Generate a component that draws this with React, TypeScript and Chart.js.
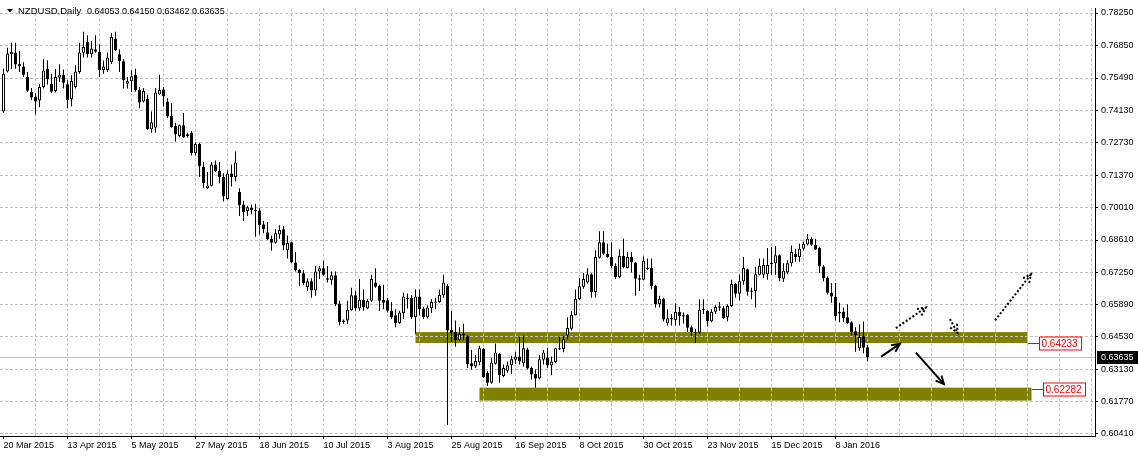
import React, { useEffect, useRef } from 'react';
import { Chart, registerables } from 'chart.js';

Chart.register(...registerables);

// ---- data (NZDUSD daily, bar 0 = 20 Mar 2015) ----
const DATE_LABELS = [
  '20 Mar 2015', '13 Apr 2015', '5 May 2015', '27 May 2015', '18 Jun 2015', '10 Jul 2015', '3 Aug 2015',
  '25 Aug 2015', '16 Sep 2015', '8 Oct 2015', '30 Oct 2015', '23 Nov 2015', '15 Dec 2015', '8 Jan 2016',
];

const OPEN = [
  0.7407, 0.7577, 0.7650, 0.7657, 0.7609, 0.7598, 0.7553, 0.7491, 0.7470, 0.7453,
  0.7511, 0.7588, 0.7525, 0.7494, 0.7550, 0.7563, 0.7523, 0.7459, 0.7511, 0.7574,
  0.7656, 0.7702, 0.7650, 0.7671, 0.7660, 0.7583, 0.7583, 0.7616, 0.7717, 0.7650,
  0.7620, 0.7525, 0.7535, 0.7563, 0.7498, 0.7449, 0.7461, 0.7331, 0.7338, 0.7479,
  0.7500, 0.7449, 0.7389, 0.7345, 0.7303, 0.7348, 0.7310, 0.7317, 0.7229, 0.7269,
  0.7171, 0.7081, 0.7091, 0.7182, 0.7154, 0.7129, 0.7035, 0.7143, 0.7129, 0.7065,
  0.7012, 0.6984, 0.6998, 0.6986, 0.6986, 0.6928, 0.6894, 0.6866, 0.6849, 0.6884,
  0.6907, 0.6817, 0.6852, 0.6766, 0.6734, 0.6720, 0.6661, 0.6686, 0.6647, 0.6727,
  0.6741, 0.6699, 0.6690, 0.6711, 0.6591, 0.6519, 0.6519, 0.6563, 0.6626, 0.6570,
  0.6607, 0.6570, 0.6603, 0.6681, 0.6667, 0.6607, 0.6605, 0.6561, 0.6542, 0.6509,
  0.6551, 0.6609, 0.6616, 0.6533, 0.6621, 0.6570, 0.6533, 0.6571, 0.6595, 0.6598,
  0.6626, 0.6667, 0.6480, 0.6470, 0.6435, 0.6463, 0.6452, 0.6338, 0.6324, 0.6342,
  0.6398, 0.6297, 0.6255, 0.6336, 0.6377, 0.6283, 0.6306, 0.6329, 0.6352, 0.6366,
  0.6338, 0.6396, 0.6317, 0.6292, 0.6273, 0.6352, 0.6362, 0.6328, 0.6342, 0.6396,
  0.6398, 0.6456, 0.6484, 0.6542, 0.6609, 0.6662, 0.6681, 0.6716, 0.6640, 0.6786,
  0.6852, 0.6803, 0.6789, 0.6752, 0.6703, 0.6794, 0.6742, 0.6789, 0.6766, 0.6699,
  0.6692, 0.6742, 0.6742, 0.6667, 0.6588, 0.6612, 0.6508, 0.6530, 0.6521, 0.6556,
  0.6542, 0.6544, 0.6491, 0.6470, 0.6467, 0.6567, 0.6561, 0.6516, 0.6556, 0.6573,
  0.6571, 0.6533, 0.6581, 0.6674, 0.6633, 0.6686, 0.6737, 0.6647, 0.6644, 0.6713,
  0.6713, 0.6716, 0.6765, 0.6762, 0.6796, 0.6697, 0.6723, 0.6762, 0.6803, 0.6789,
  0.6824, 0.6842, 0.6866, 0.6841, 0.6828, 0.6748, 0.6702, 0.6637, 0.6621, 0.6556,
  0.6556, 0.6533, 0.6512, 0.6474, 0.6401, 0.6452, 0.64053,
];

const HIGH = [
  0.7588, 0.7678, 0.7699, 0.7699, 0.7664, 0.7616, 0.7574, 0.7507, 0.7484, 0.7524,
  0.7629, 0.7624, 0.7567, 0.7588, 0.7607, 0.7585, 0.7539, 0.7561, 0.7603, 0.7699,
  0.7745, 0.7731, 0.7706, 0.7731, 0.7692, 0.7623, 0.7657, 0.7740, 0.7745, 0.7671,
  0.7629, 0.7553, 0.7581, 0.7588, 0.7511, 0.7507, 0.7478, 0.7407, 0.7507, 0.7563,
  0.7511, 0.7463, 0.7442, 0.7359, 0.7352, 0.7400, 0.7317, 0.7324, 0.7275, 0.7275,
  0.7192, 0.7150, 0.7192, 0.7199, 0.7192, 0.7145, 0.7157, 0.7182, 0.7237, 0.7081,
  0.7028, 0.7007, 0.7012, 0.7015, 0.6998, 0.6942, 0.6937, 0.6880, 0.6907, 0.6924,
  0.6920, 0.6880, 0.6855, 0.6810, 0.6737, 0.6734, 0.6699, 0.6699, 0.6751, 0.6751,
  0.6773, 0.6751, 0.6727, 0.6727, 0.6603, 0.6523, 0.6603, 0.6658, 0.6644, 0.6695,
  0.6651, 0.6609, 0.6713, 0.6741, 0.6671, 0.6671, 0.6616, 0.6598, 0.6567, 0.6561,
  0.6637, 0.6634, 0.6626, 0.6651, 0.6651, 0.6578, 0.6584, 0.6609, 0.6616, 0.6651,
  0.6713, 0.6674, 0.6561, 0.6519, 0.6491, 0.6505, 0.6456, 0.6394, 0.6373, 0.6412,
  0.6401, 0.6304, 0.6359, 0.6421, 0.6380, 0.6332, 0.6345, 0.6370, 0.6387, 0.6449,
  0.6456, 0.6404, 0.6324, 0.6311, 0.6373, 0.6394, 0.6404, 0.6366, 0.6404, 0.6449,
  0.6456, 0.6533, 0.6561, 0.6651, 0.6699, 0.6720, 0.6741, 0.6720, 0.6817, 0.6898,
  0.6898, 0.6845, 0.6852, 0.6762, 0.6821, 0.6866, 0.6810, 0.6810, 0.6769, 0.6713,
  0.6792, 0.6783, 0.6782, 0.6671, 0.6624, 0.6616, 0.6567, 0.6547, 0.6591, 0.6577,
  0.6553, 0.6547, 0.6498, 0.6484, 0.6609, 0.6609, 0.6563, 0.6567, 0.6584, 0.6598,
  0.6581, 0.6588, 0.6692, 0.6678, 0.6713, 0.6789, 0.6740, 0.6658, 0.6747, 0.6783,
  0.6783, 0.6827, 0.6831, 0.6836, 0.6799, 0.6762, 0.6775, 0.6838, 0.6824, 0.6845,
  0.6855, 0.6887, 0.6873, 0.6866, 0.6832, 0.6755, 0.6706, 0.6678, 0.6678, 0.6595,
  0.6574, 0.6588, 0.6516, 0.6491, 0.6503, 0.6515, 0.64150,
];

const LOW = [
  0.7400, 0.7572, 0.7588, 0.7588, 0.7574, 0.7553, 0.7491, 0.7456, 0.7394, 0.7425,
  0.7504, 0.7520, 0.7484, 0.7487, 0.7532, 0.7504, 0.7421, 0.7428, 0.7504, 0.7567,
  0.7636, 0.7636, 0.7636, 0.7657, 0.7553, 0.7567, 0.7574, 0.7609, 0.7664, 0.7574,
  0.7504, 0.7504, 0.7491, 0.7491, 0.7421, 0.7445, 0.7328, 0.7317, 0.7317, 0.7477,
  0.7428, 0.7379, 0.7338, 0.7279, 0.7296, 0.7294, 0.7296, 0.7220, 0.7220, 0.7129,
  0.7081, 0.7078, 0.7088, 0.7150, 0.7102, 0.7025, 0.7032, 0.7088, 0.7109, 0.6963,
  0.6942, 0.6963, 0.6970, 0.6875, 0.6884, 0.6890, 0.6862, 0.6815, 0.6845, 0.6866,
  0.6817, 0.6783, 0.6762, 0.6727, 0.6665, 0.6671, 0.6644, 0.6616, 0.6624, 0.6695,
  0.6709, 0.6681, 0.6671, 0.6581, 0.6498, 0.6505, 0.6505, 0.6561, 0.6561, 0.6561,
  0.6561, 0.6567, 0.6598, 0.6658, 0.6561, 0.6567, 0.6553, 0.6526, 0.6491, 0.6505,
  0.6526, 0.6570, 0.6526, 0.6463, 0.6542, 0.6526, 0.6528, 0.6551, 0.6567, 0.6595,
  0.6616, 0.6075, 0.6428, 0.6408, 0.6431, 0.6435, 0.6317, 0.6311, 0.6317, 0.6329,
  0.6275, 0.6241, 0.6251, 0.6332, 0.6255, 0.6278, 0.6297, 0.6292, 0.6334, 0.6332,
  0.6324, 0.6311, 0.6269, 0.6234, 0.6269, 0.6332, 0.6317, 0.6287, 0.6338, 0.6394,
  0.6384, 0.6440, 0.6477, 0.6540, 0.6607, 0.6654, 0.6675, 0.6616, 0.6616, 0.6783,
  0.6796, 0.6786, 0.6741, 0.6695, 0.6699, 0.6741, 0.6741, 0.6723, 0.6624, 0.6644,
  0.6690, 0.6734, 0.6651, 0.6574, 0.6574, 0.6515, 0.6498, 0.6498, 0.6498, 0.6498,
  0.6505, 0.6470, 0.6452, 0.6424, 0.6463, 0.6547, 0.6494, 0.6512, 0.6547, 0.6561,
  0.6526, 0.6516, 0.6577, 0.6616, 0.6605, 0.6671, 0.6624, 0.6609, 0.6574, 0.6711,
  0.6699, 0.6692, 0.6713, 0.6713, 0.6686, 0.6683, 0.6716, 0.6748, 0.6769, 0.6769,
  0.6817, 0.6838, 0.6836, 0.6819, 0.6720, 0.6686, 0.6630, 0.6595, 0.6519, 0.6512,
  0.6512, 0.6505, 0.6456, 0.6387, 0.6391, 0.6380, 0.63462,
];

const CLOSE = [
  0.7567, 0.7653, 0.7660, 0.7606, 0.7598, 0.7563, 0.7495, 0.7466, 0.7449, 0.7511,
  0.7581, 0.7543, 0.7491, 0.7553, 0.7563, 0.7529, 0.7456, 0.7536, 0.7577, 0.7657,
  0.7681, 0.7650, 0.7674, 0.7661, 0.7583, 0.7598, 0.7636, 0.7723, 0.7667, 0.7620,
  0.7539, 0.7535, 0.7556, 0.7498, 0.7445, 0.7494, 0.7332, 0.7361, 0.7487, 0.7498,
  0.7470, 0.7386, 0.7341, 0.7310, 0.7348, 0.7296, 0.7303, 0.7229, 0.7269, 0.7174,
  0.7102, 0.7092, 0.7182, 0.7154, 0.7129, 0.7046, 0.7143, 0.7129, 0.7190, 0.7009,
  0.6980, 0.7000, 0.6988, 0.6984, 0.6925, 0.6907, 0.6863, 0.6849, 0.6890, 0.6903,
  0.6838, 0.6848, 0.6765, 0.6734, 0.6720, 0.6678, 0.6686, 0.6647, 0.6727, 0.6741,
  0.6713, 0.6692, 0.6711, 0.6588, 0.6512, 0.6512, 0.6565, 0.6626, 0.6570, 0.6607,
  0.6574, 0.6603, 0.6695, 0.6662, 0.6603, 0.6595, 0.6561, 0.6533, 0.6509, 0.6553,
  0.6621, 0.6616, 0.6533, 0.6621, 0.6567, 0.6533, 0.6574, 0.6598, 0.6600, 0.6628,
  0.6681, 0.6477, 0.6467, 0.6435, 0.6463, 0.6456, 0.6334, 0.6324, 0.6348, 0.6401,
  0.6278, 0.6255, 0.6341, 0.6383, 0.6287, 0.6317, 0.6329, 0.6355, 0.6366, 0.6345,
  0.6401, 0.6315, 0.6290, 0.6273, 0.6355, 0.6383, 0.6328, 0.6345, 0.6401, 0.6401,
  0.6440, 0.6487, 0.6544, 0.6612, 0.6665, 0.6695, 0.6716, 0.6640, 0.6789, 0.6852,
  0.6803, 0.6789, 0.6751, 0.6703, 0.6794, 0.6745, 0.6789, 0.6766, 0.6696, 0.6692,
  0.6773, 0.6738, 0.6665, 0.6588, 0.6612, 0.6523, 0.6529, 0.6523, 0.6556, 0.6537,
  0.6536, 0.6488, 0.6470, 0.6467, 0.6565, 0.6563, 0.6516, 0.6556, 0.6577, 0.6580,
  0.6530, 0.6581, 0.6674, 0.6633, 0.6686, 0.6742, 0.6641, 0.6641, 0.6716, 0.6752,
  0.6755, 0.6755, 0.6759, 0.6796, 0.6699, 0.6730, 0.6762, 0.6810, 0.6789, 0.6824,
  0.6845, 0.6866, 0.6841, 0.6821, 0.6748, 0.6699, 0.6637, 0.6621, 0.6537, 0.6549,
  0.6530, 0.6508, 0.6470, 0.6457, 0.6449, 0.6404, 0.63635,
];

const Y_TICKS = [
  0.7825, 0.7685, 0.7549, 0.7413, 0.7273, 0.7137, 0.7001,
  0.6861, 0.6725, 0.6589, 0.6453, 0.6313, 0.6177, 0.6041,
];

const SYMBOL = 'NZDUSD,Daily';
const Y_MIN = 0.60287;
const Y_MAX = 0.78446;
const X_MIN = -0.875;
const X_MAX = 272.875;
const BARS_PER_GRID = 8;
const BARS_PER_LABEL = 16;

// support / resistance zones (bar index range, price range, label level)
const ZONES = [
  { from: 103, to: 256, lo: 0.64233, hi: 0.6470, level: 0.64233 },
  { from: 119, to: 257, lo: 0.6179, hi: 0.6234, level: 0.62282 },
];

// arrows drawn on chart: [bar, price] -> [bar, price]
const ARROWS = [
  { from: [219.4, 0.6366], to: [224.1, 0.6420], dotted: false },
  { from: [228.1, 0.6383], to: [235.1, 0.6249], dotted: false },
  { from: [223.1, 0.6487], to: [230.6, 0.6574], dotted: true },
  { from: [247.9, 0.6520], to: [256.9, 0.6716], dotted: true },
  { from: [236.6, 0.6526], to: [238.5, 0.6467], dotted: true },
];

const FONT = 'Liberation Sans, Arial, sans-serif';
const GRID_COLOR = '#c0c0c0';

function drawArrow(ctx: CanvasRenderingContext2D, x1: number, y1: number, x2: number, y2: number, dotted: boolean) {
  ctx.save();
  ctx.strokeStyle = '#000';
  ctx.lineWidth = 2;
  ctx.setLineDash(dotted ? [2, 2] : []);
  ctx.beginPath();
  ctx.moveTo(x1, y1);
  ctx.lineTo(x2, y2);
  ctx.stroke();
  const ang = Math.atan2(y2 - y1, x2 - x1);
  const L = 9;
  const a = 0.45;
  ctx.beginPath();
  ctx.moveTo(x2 - L * Math.cos(ang - a), y2 - L * Math.sin(ang - a));
  ctx.lineTo(x2, y2);
  ctx.lineTo(x2 - L * Math.cos(ang + a), y2 - L * Math.sin(ang + a));
  ctx.stroke();
  ctx.restore();
}

const overlayPlugin = {
  id: 'mt4overlay',
  beforeDraw(chart: any) {
    const { ctx, chartArea, scales } = chart;
    const xs = scales.x;
    const ys = scales.y;
    ctx.save();
    ctx.fillStyle = '#808000';
    ZONES.forEach((z) => {
      const x0 = xs.getPixelForValue(z.from);
      const x1 = xs.getPixelForValue(z.to);
      const y0 = ys.getPixelForValue(z.hi);
      const y1 = ys.getPixelForValue(z.lo);
      ctx.fillRect(x0, y0, x1 - x0, y1 - y0);
    });
    const py = Math.round(ys.getPixelForValue(CLOSE[CLOSE.length - 1])) + 0.5;
    ctx.strokeStyle = GRID_COLOR;
    ctx.lineWidth = 1;
    ctx.beginPath();
    ctx.moveTo(chartArea.left, py);
    ctx.lineTo(chartArea.right, py);
    ctx.stroke();
    ctx.restore();
  },
  afterDraw(chart: any) {
    const { ctx, chartArea, scales } = chart;
    const xs = scales.x;
    const ys = scales.y;
    ctx.save();
    ARROWS.forEach((a) => {
      drawArrow(
        ctx,
        xs.getPixelForValue(a.from[0]), ys.getPixelForValue(a.from[1]),
        xs.getPixelForValue(a.to[0]), ys.getPixelForValue(a.to[1]),
        a.dotted,
      );
    });
    ctx.font = `10px ${FONT}`;
    ctx.textBaseline = 'middle';
    ctx.textAlign = 'left';
    ZONES.forEach((z) => {
      const xr = Math.round(xs.getPixelForValue(z.to));
      const y = Math.round(ys.getPixelForValue(z.level)) + 0.5;
      ctx.strokeStyle = '#ff0000';
      ctx.lineWidth = 1;
      ctx.beginPath();
      ctx.moveTo(xr, y);
      ctx.lineTo(xr + 11, y);
      ctx.stroke();
      const bx = xr + 11.5;
      ctx.fillStyle = '#ffffff';
      ctx.fillRect(bx, y - 6.5, 42, 13);
      ctx.strokeRect(bx, y - 6.5, 42, 13);
      ctx.fillStyle = '#ff0000';
      ctx.fillText(z.level.toFixed(5), bx + 2, y + 0.5);
    });
    const last = CLOSE[CLOSE.length - 1];
    const py = Math.round(ys.getPixelForValue(last));
    ctx.fillStyle = '#000';
    ctx.fillRect(chartArea.right + 2, py - 6, chart.width - chartArea.right - 2, 13);
    ctx.fillStyle = '#fff';
    ctx.font = `9px ${FONT}`;
    ctx.fillText(last.toFixed(5), chartArea.right + 6, py + 0.5);
    ctx.fillStyle = '#000';
    ctx.beginPath();
    ctx.moveTo(7, 9);
    ctx.lineTo(13, 9);
    ctx.lineTo(10, 12.5);
    ctx.closePath();
    ctx.fill();
    ctx.font = `9.5px ${FONT}`;
    ctx.textBaseline = 'alphabetic';
    ctx.fillText(SYMBOL, 18, 13.5);
    const n = CLOSE.length - 1;
    const ohlc = [OPEN[n], HIGH[n], LOW[n], CLOSE[n]].map((v) => v.toFixed(5)).join(' ');
    ctx.font = `9px ${FONT}`;
    ctx.fillText(ohlc, 87, 13.5);
    ctx.restore();
  },
};

export default function App() {
  const canvasRef = useRef<HTMLCanvasElement | null>(null);

  useEffect(() => {
    document.body.style.margin = '0';
    const canvas = canvasRef.current;
    if (!canvas) return;
    const idx = OPEN.map((_, i) => i);
    const bodies = idx.map((i) => ({ x: i, y: [OPEN[i], CLOSE[i]] }));
    const wicks = idx.map((i) => ({ x: i, y: [LOW[i], HIGH[i]] }));
    const bodyColors = idx.map((i) => (CLOSE[i] >= OPEN[i] ? '#ffffff' : '#000000'));
    const xTicks: { value: number }[] = [];
    for (let v = 0; v <= X_MAX; v += BARS_PER_GRID) xTicks.push({ value: v });
    const isLabelled = (v: number) => v % BARS_PER_LABEL === 0 && v / BARS_PER_LABEL < DATE_LABELS.length;

    const chart = new Chart(canvas, {
      type: 'bar',
      data: {
        datasets: [
          {
            data: bodies as any,
            backgroundColor: bodyColors,
            borderColor: '#000000',
            borderWidth: 1,
            borderSkipped: false,
            barThickness: 3,
            minBarLength: 1,
            grouped: false,
            inflateAmount: 0,
          } as any,
          {
            data: wicks as any,
            backgroundColor: '#000000',
            borderWidth: 0,
            barThickness: 1,
            grouped: false,
            inflateAmount: 0,
          } as any,
        ],
      },
      options: {
        responsive: false,
        animation: false,
        devicePixelRatio: 1,
        events: [],
        layout: { padding: 0, autoPadding: false },
        plugins: { legend: { display: false }, tooltip: { enabled: false }, title: { display: false } },
        scales: {
          x: {
            type: 'linear',
            position: 'bottom',
            min: X_MIN,
            max: X_MAX,
            offset: false,
            afterBuildTicks: (s: any) => { s.ticks = xTicks.map((t) => ({ ...t })); },
            afterFit: (s: any) => { s.height = 21; },
            ticks: {
              autoSkip: false,
              maxRotation: 0,
              minRotation: 0,
              align: 'start',
              padding: 1,
              color: '#000',
              font: { family: FONT, size: 9 },
              callback: (v: any) => (isLabelled(Number(v)) ? DATE_LABELS[Number(v) / BARS_PER_LABEL] : ''),
            },
            grid: {
              offset: false,
              color: (c: any) => (c.tick && c.tick.value === 0 ? 'rgba(0,0,0,0)' : GRID_COLOR),
              borderDash: [3, 2],
              tickBorderDash: [],
              tickLength: 3,
              tickColor: (c: any) => (c.tick && isLabelled(c.tick.value) ? '#000' : 'rgba(0,0,0,0)'),
            },
            border: { display: true, color: '#000', width: 1, dash: [3, 2] },
          } as any,
          y: {
            type: 'linear',
            position: 'right',
            min: Y_MIN,
            max: Y_MAX,
            beginAtZero: false,
            afterBuildTicks: (s: any) => { s.ticks = Y_TICKS.map((v) => ({ value: v })); },
            afterFit: (s: any) => { s.width = 43; },
            ticks: {
              padding: 3,
              color: '#000',
              font: { family: FONT, size: 9 },
              callback: (v: any) => Number(v).toFixed(5),
            },
            grid: {
              color: GRID_COLOR,
              borderDash: [3, 2],
              tickBorderDash: [],
              tickLength: 3,
              tickColor: '#000',
            },
            border: { display: true, color: '#000', width: 1, dash: [3, 2] },
          } as any,
        },
      },
      plugins: [overlayPlugin],
    });
    return () => chart.destroy();
  }, []);

  return (
    <div style={{ position: 'absolute', left: 0, top: 0, width: 1138, height: 457, background: '#fff' }}>
      <canvas ref={canvasRef} width={1138} height={457} style={{ display: 'block' }} />
    </div>
  );
}
